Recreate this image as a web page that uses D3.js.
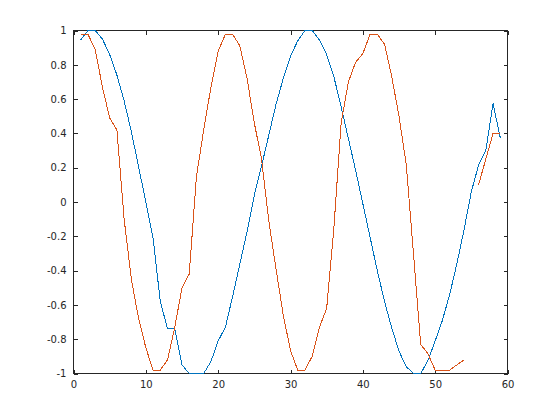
<!DOCTYPE html>
<html>
<head>
<meta charset="utf-8">
<script src="https://cdn.jsdelivr.net/npm/d3@7"></script>
<style>
  body { margin: 0; background: #fff; }
  #chart text { font-family: "DejaVu Sans", sans-serif; font-size: 10px; fill: #262626; }
</style>
</head>
<body>
<div id="chart"></div>
<script>
// Sample index (1..59)
const xs = d3.range(1, 60);

// First series (blue)
const blueValues = [
  0.945, 1.0, 1.0, 0.95, 0.86, 0.74, 0.59, 0.41, 0.205, 0.0,
  -0.21, -0.58, -0.74, -0.74, -0.95, -1.0, -1.0, -1.0, -0.93, -0.81,
  -0.73, -0.55, -0.36, -0.17, 0.04, 0.21, 0.39, 0.57, 0.72, 0.85,
  0.94, 1.0, 1.0, 0.945, 0.86, 0.73, 0.555, 0.37, 0.185, -0.01,
  -0.205, -0.40, -0.58, -0.735, -0.87, -0.96, -1.0, -1.0, -0.925, -0.81,
  -0.69, -0.54, -0.36, -0.16, 0.06, 0.215, 0.30, 0.575, 0.375
];

// Second series (red), null = missing sample
const redValues = [
  0.978, 0.978, 0.89, 0.67, 0.49, 0.42, -0.1, -0.45, -0.68, -0.85,
  -0.98, -0.98, -0.92, -0.73, -0.5, -0.42, 0.15, 0.42, 0.67, 0.88,
  0.978, 0.978, 0.91, 0.72, 0.46, 0.25, -0.11, -0.39, -0.66, -0.866,
  -0.98, -0.98, -0.9, -0.73, -0.62, -0.15, 0.46, 0.70, 0.815, 0.865,
  0.978, 0.978, 0.92, 0.73, 0.5, 0.22, -0.3, -0.83, -0.885, -0.98,
  -0.98, -0.98, -0.95, -0.92, null, 0.10, 0.25, 0.40, 0.40
];

const xTicks = [0, 10, 20, 30, 40, 50, 60];
const yTicks = [-1, -0.8, -0.6, -0.4, -0.2, 0, 0.2, 0.4, 0.6, 0.8, 1];

const width = 560;
const height = 420;
const plot = { left: 73.5, right: 507.5, top: 30.5, bottom: 373.5 };

const svg = d3
  .select("#chart")
  .append("svg")
  .attr("width", width)
  .attr("height", height);

const xScale = d3.scaleLinear().domain([0, 60]).range([plot.left, plot.right]);
const yScale = d3.scaleLinear().domain([-1, 1]).range([plot.bottom, plot.top]);

const fmt = (d) => String(+d.toFixed(1));

// Axes, ticks pointing inward, mirrored on top and right
const styleAxis = (g) => {
  g.select(".domain").remove();
  g.selectAll(".tick line").attr("stroke", "#262626").attr("shape-rendering", "crispEdges");
  g.selectAll("text").attr("font-family", null).attr("font-size", null);
};

svg.append("g")
  .attr("transform", `translate(0, ${plot.bottom})`)
  .call(d3.axisBottom(xScale).tickValues(xTicks).tickFormat(fmt).tickSize(-4).tickPadding(7))
  .call(styleAxis);

svg.append("g")
  .attr("transform", `translate(0, ${plot.top})`)
  .call(d3.axisTop(xScale).tickValues(xTicks).tickFormat("").tickSize(-4))
  .call(styleAxis);

svg.append("g")
  .attr("transform", `translate(${plot.left}, 0)`)
  .call(d3.axisLeft(yScale).tickValues(yTicks).tickFormat(fmt).tickSize(-4).tickPadding(7))
  .call(styleAxis);

svg.append("g")
  .attr("transform", `translate(${plot.right}, 0)`)
  .call(d3.axisRight(yScale).tickValues(yTicks).tickFormat("").tickSize(-4))
  .call(styleAxis);

// Box
svg.append("rect")
  .attr("x", plot.left)
  .attr("y", plot.top)
  .attr("width", plot.right - plot.left)
  .attr("height", plot.bottom - plot.top)
  .attr("fill", "none")
  .attr("stroke", "#262626")
  .attr("shape-rendering", "crispEdges");

const line = d3
  .line()
  .defined((d) => d[1] != null)
  .x((d) => xScale(d[0]))
  .y((d) => yScale(d[1]));

const series = [
  { values: blueValues, color: "#0072BD" },
  { values: redValues, color: "#D95319" }
];

svg.selectAll(".series")
  .data(series)
  .enter()
  .append("path")
  .attr("class", "series")
  .attr("d", (s) => line(xs.map((x, i) => [x, s.values[i]])))
  .attr("fill", "none")
  .attr("stroke", (s) => s.color)
  .attr("stroke-width", 1)
  .attr("shape-rendering", "crispEdges");
</script>
</body>
</html>
